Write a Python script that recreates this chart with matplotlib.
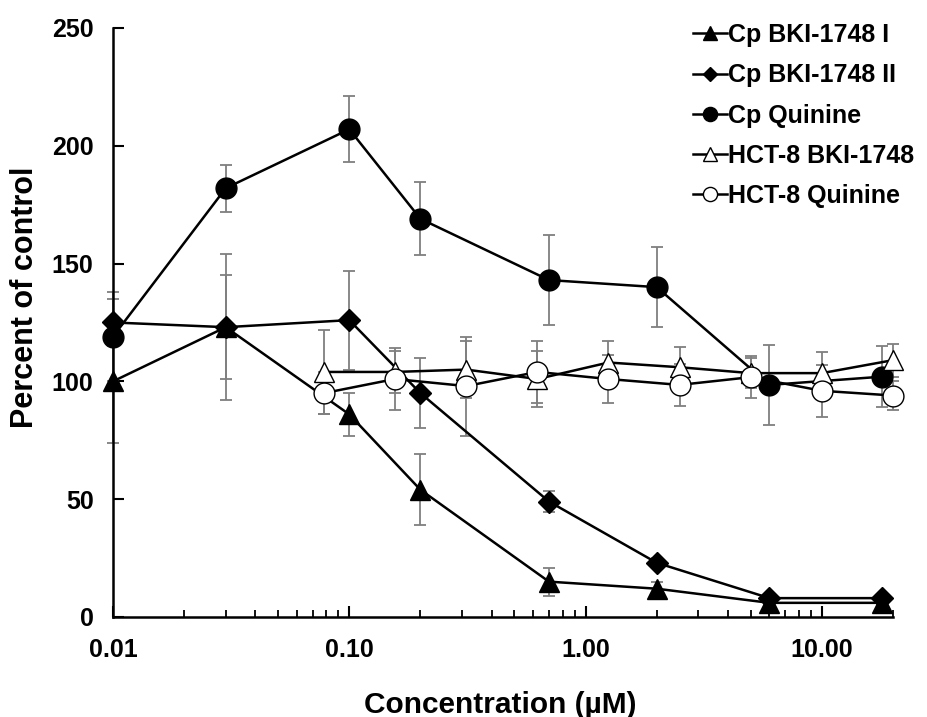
import numpy as np
import matplotlib
matplotlib.use("Agg")
import matplotlib.pyplot as plt
from matplotlib.ticker import FixedLocator, LogLocator, NullFormatter

plt.rcParams['font.family'] = ['Liberation Sans', 'DejaVu Sans']
plt.rcParams['font.weight'] = 'bold'

# concentrations (uM)
cp_conc = [0.01, 0.03, 0.1, 0.2, 0.7, 2.0, 6.0, 18.0]
hct_conc = [0.078, 0.156, 0.3125, 0.625, 1.25, 2.5, 5.0, 10.0, 20.0]

# percent of control, mean and error
cp_bki_i = [100, 123, 86, 54, 15, 12, 6, 6]
cp_bki_i_err = [26, 31, 9, 15, 6, 3, 1, 1]
cp_bki_ii = [125, 123, 126, 95, 49, 23, 8, 8]
cp_bki_ii_err = [10, 22, 21, 15, 4.5, 2, 1, 1]
cp_quinine = [119, 182, 207, 169, 143, 140, 98.5, 102]
cp_quinine_err = [19, 10, 14, 15.5, 19, 17, 17, 13]
hct_bki = [104, 104, 105, 101, 108, 106, 103.5, 103.5, 109]
hct_bki_err = [18, 9, 12, 12, 9, 8.5, 6.5, 9, 7]
hct_quinine = [95, 101, 98, 104, 101, 98.5, 101.8, 96, 94]
hct_quinine_err = [9, 13, 21, 13, 10, 9, 9, 11, 6]

x_ticks = [0.01, 0.1, 1, 10]
x_ticklabels = ["0.01", "0.10", "1.00", "10.00"]
y_ticks = [0, 50, 100, 150, 200, 250]

series = [
    ("Cp BKI-1748 I", cp_conc, cp_bki_i, cp_bki_i_err, "^", "black", 15),
    ("Cp BKI-1748 II", cp_conc, cp_bki_ii, cp_bki_ii_err, "D", "black", 11),
    ("Cp Quinine", cp_conc, cp_quinine, cp_quinine_err, "o", "black", 15),
    ("HCT-8 BKI-1748", hct_conc, hct_bki, hct_bki_err, "^", "white", 15),
    ("HCT-8 Quinine", hct_conc, hct_quinine, hct_quinine_err, "o", "white", 15),
]

fig = plt.figure(figsize=(9.27, 7.17), dpi=100)
ax = fig.add_axes([0.1219, 0.1395, 0.8414, 0.8215])

for i, (name, x, y, err, mk, fc, ms) in enumerate(series):
    ax.errorbar(x, y, yerr=err, fmt="none", ecolor="#7f7f7f", elinewidth=1.3,
                capsize=4, capthick=1.3, zorder=2, clip_on=False)
    ax.plot(x, y, color="black", lw=1.8, marker=mk, markersize=ms,
            markerfacecolor=fc, markeredgecolor="black", markeredgewidth=1.0,
            label=name, zorder=3 + i, clip_on=False)

ax.set_xscale("log")
ax.set_xlim(0.01, 20)
ax.set_ylim(0, 250)
ax.xaxis.set_major_locator(FixedLocator(x_ticks))
ax.set_xticklabels(x_ticklabels)
ax.xaxis.set_minor_locator(LogLocator(base=10, subs=np.arange(2, 10)))
ax.xaxis.set_minor_formatter(NullFormatter())
ax.set_yticks(y_ticks)

for s in ["top", "right"]:
    ax.spines[s].set_visible(False)
for s in ["left", "bottom"]:
    ax.spines[s].set_linewidth(1.8)

ax.tick_params(axis="both", which="major", direction="in", length=8, width=1.5,
               labelsize=18)
ax.tick_params(axis="x", which="minor", direction="in", length=5, width=1.3)
ax.tick_params(axis="x", which="major", pad=15)
ax.tick_params(axis="y", which="major", pad=14)

ax.set_xlabel("Concentration (\u00b5M)", fontsize=21.5, fontweight="bold")
ax.set_ylabel("Percent of control", fontsize=22, fontweight="bold")
ax.xaxis.set_label_coords(0.496, -0.125)
ax.yaxis.set_label_coords(-0.113, 0.542)
ax.yaxis.label.set_verticalalignment("center")

leg = ax.legend(loc="upper left", bbox_to_anchor=(0.731, 1.025), frameon=False,
                fontsize=18, handlelength=1.36, handletextpad=0.05,
                labelspacing=0.65, markerscale=0.68, borderaxespad=0)

fig.savefig("out.png", dpi=100)
